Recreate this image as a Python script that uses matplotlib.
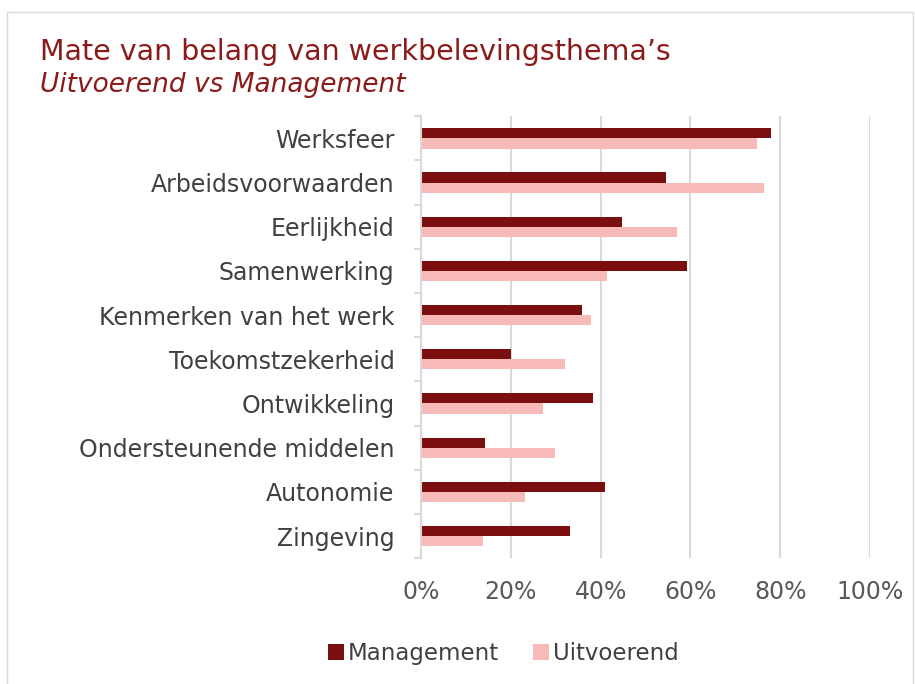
import matplotlib.pyplot as plt
from matplotlib.patches import Rectangle
from matplotlib.ticker import FuncFormatter

# thema's, van boven naar onder
themas = ['Werksfeer', 'Arbeidsvoorwaarden', 'Eerlijkheid', 'Samenwerking',
          'Kenmerken van het werk', 'Toekomstzekerheid', 'Ontwikkeling',
          'Ondersteunende middelen', 'Autonomie', 'Zingeving']
management = [77.9, 54.6, 44.7, 59.2, 35.8, 20.0, 38.4, 14.3, 40.9, 33.1]
uitvoerend = [74.7, 76.4, 56.9, 41.4, 37.8, 32.1, 27.1, 29.8, 23.1, 13.8]
x_ticks = [0, 20, 40, 60, 80, 100]

kleur_man = '#7b0e0e'
kleur_uit = '#f8b9b9'
tekst = '#404040'

fig = plt.figure(figsize=(9.15, 6.84), dpi=100)
fig.patches.append(Rectangle((0.008, -0.01), 0.99, 0.993, transform=fig.transFigure,
                             fill=False, edgecolor='#d9d9d9', linewidth=1))
ax = fig.add_axes([0.460, 0.184, 0.491, 0.646])

n = len(themas)
pos = [n - 1 - i for i in range(n)]
h = 0.23
ax.barh([p + h / 2 for p in pos], management, height=h, color=kleur_man, label='Management')
ax.barh([p - h / 2 for p in pos], uitvoerend, height=h, color=kleur_uit, label='Uitvoerend')

ax.set_xlim(0, 100)
ax.set_ylim(-0.5, n - 0.5)
ax.set_xticks(x_ticks)
ax.xaxis.set_major_formatter(FuncFormatter(lambda v, _: '%d%%' % v))
ax.set_yticks(pos)
ax.set_yticklabels(themas)
ax.set_yticks([p - 0.5 for p in range(n + 1)], minor=True)
ax.tick_params(axis='y', which='major', length=0, pad=19, labelsize=17, labelcolor=tekst)
ax.tick_params(axis='y', which='minor', length=5, color='#d9d9d9', width=1.5)
ax.tick_params(axis='x', length=0, pad=16, labelsize=17, labelcolor='#595959')

ax.grid(axis='x', color='#d9d9d9', linewidth=1.5)
ax.set_axisbelow(True)
for s in ['top', 'right', 'bottom']:
    ax.spines[s].set_visible(False)
ax.spines['left'].set_color('#d9d9d9')
ax.spines['left'].set_linewidth(1.5)

fig.text(0.044, 0.924, "Mate van belang van werkbelevingsthema\u2019s", fontsize=20.5,
         color='#8b1a1a', va='center')
fig.text(0.044, 0.876, 'Uitvoerend vs Management', fontsize=19, style='italic',
         color='#8b1a1a', va='center')

fig.legend(loc='center', bbox_to_anchor=(0.550, 0.045), ncol=2, frameon=False,
           fontsize=16.5, labelcolor=tekst, handlelength=0.7, handleheight=0.7,
           handletextpad=0.15, columnspacing=1.5)

fig.savefig('out.png', dpi=100)
